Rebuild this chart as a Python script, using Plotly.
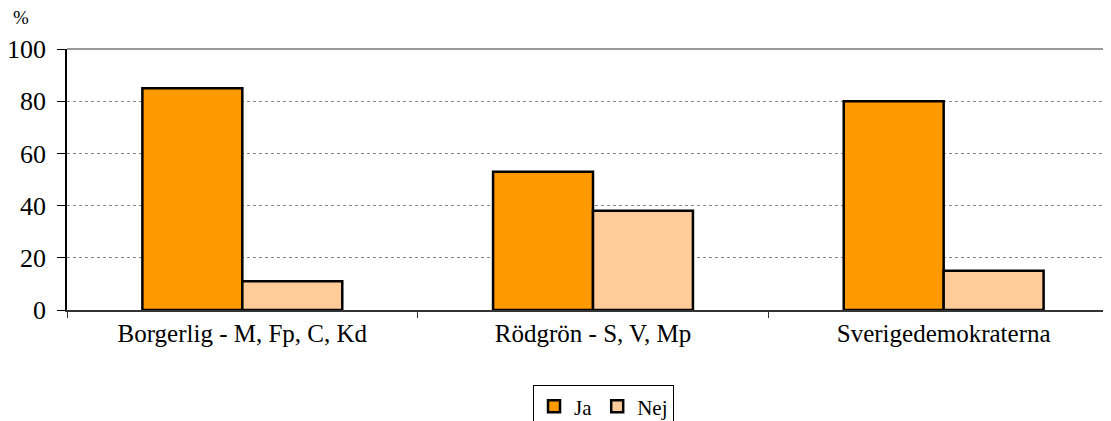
import plotly.graph_objects as go

categories = ["Borgerlig - M, Fp, C, Kd", "Rödgrön - S, V, Mp", "Sverigedemokraterna"]
ja_values = [85, 53, 80]
nej_values = [11, 38, 15]
y_ticks = [0, 20, 40, 60, 80, 100]

font_family = "Times New Roman, Liberation Serif, serif"

fig = go.Figure()
fig.add_trace(go.Bar(name="Ja", x=categories, y=ja_values,
                     marker=dict(color="#FF9900", line=dict(color="black", width=2.5))))
fig.add_trace(go.Bar(name="Nej", x=categories, y=nej_values,
                     marker=dict(color="#FFCC99", line=dict(color="black", width=2.5))))

fig.update_layout(
    width=1111, height=413,
    margin=dict(l=59, r=0, t=41, b=111, autoexpand=False),
    barmode="group", bargap=0.43, bargroupgap=0,
    plot_bgcolor="white", paper_bgcolor="white",
    font=dict(family=font_family, color="black"),
    showlegend=True,
    legend=dict(orientation="h", x=0.51, xanchor="center", y=-0.288, yanchor="top",
                bordercolor="black", borderwidth=1, font=dict(size=21, family=font_family),
                itemwidth=30, tracegroupgap=0),
    xaxis=dict(showline=True, linecolor="#333333", linewidth=1.5,
               ticks="outside", tickson="boundaries", ticklen=6, tickcolor="#333333",
               tickfont=dict(size=25, family=font_family), showgrid=False),
    yaxis=dict(range=[0, 100], tickvals=y_ticks, showline=True, linecolor="black",
               linewidth=1.5, ticks="outside", ticklen=8, tickcolor="black",
               ticklabelstandoff=6,
               tickfont=dict(size=26, family=font_family),
               showgrid=True, gridcolor="#888888", gridwidth=1, griddash="dot",
               zeroline=False),
)
fig.add_shape(type="line", xref="paper", yref="paper", x0=0, x1=1, y0=1, y1=1,
              line=dict(color="#999999", width=2))
fig.add_annotation(text="%", xref="paper", yref="paper", x=-0.053, y=1.073,
                   xanchor="left", yanchor="bottom", showarrow=False,
                   font=dict(size=19, family=font_family))

fig.write_html("out.html")
